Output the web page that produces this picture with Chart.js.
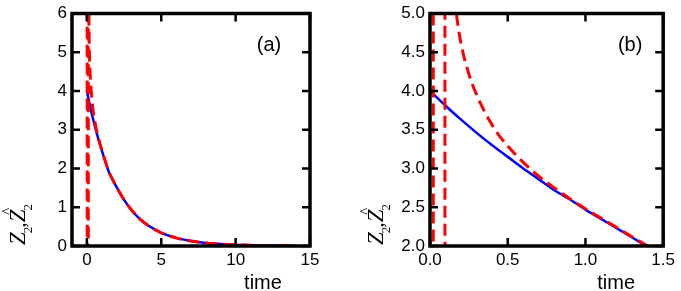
<!DOCTYPE html>
<html>
<head>
<meta charset="utf-8">
<script src="https://cdn.jsdelivr.net/npm/chart.js@4.4.1/dist/chart.umd.min.js"></script>
<style>
  html, body { margin: 0; padding: 0; background: #fff; }
  #wrap { position: relative; width: 681px; height: 291px; }
  canvas { position: absolute; top: 0; }
</style>
</head>
<body>
<div id="wrap">
  <canvas id="chartA" width="340" height="291" style="left:0px"></canvas>
  <canvas id="chartB" width="341" height="291" style="left:340px"></canvas>
</div>
<script>
// Z2 (blue, solid)
var timeZ = [0, 0.1, 0.2, 0.3, 0.4, 0.5, 0.6, 0.7, 0.8, 0.9, 1.0, 1.1, 1.2, 1.3, 1.4, 1.5,
             1.75, 2.0, 2.5, 3.0, 3.5, 4.0, 4.5, 5.0, 6.0, 7.0, 8.0, 9.0, 10.0, 11.0, 12.0, 13.0, 14.0];
var valZ  = [4.00, 3.81, 3.63, 3.46, 3.30, 3.15, 3.00, 2.86, 2.72, 2.60, 2.47, 2.35, 2.23, 2.11, 1.99, 1.89,
             1.70, 1.52, 1.19, 0.93, 0.72, 0.56, 0.44, 0.34, 0.21, 0.13, 0.08, 0.05, 0.03, 0.02, 0.01, 0.01, 0.005];

// Z2 hat (red, dashed) - blows up near t = 0
var timeZhat = [0, 0.021, 0.0212, 0.096, 0.0962, 0.11, 0.13, 0.15, 0.17, 0.2, 0.25, 0.3, 0.35, 0.4, 0.45,
                0.5, 0.55, 0.6, 0.7, 0.8, 0.9, 1.0, 1.1, 1.2, 1.3, 1.4, 1.5,
                1.75, 2.0, 2.5, 3.0, 3.5, 4.0, 4.5, 5.0, 6.0, 7.0, 8.0, 9.0, 10.0, 11.0, 12.0, 13.0, 14.0];
var valZhat  = [60, 60, -60, -60, 60, 8.5, 6.2, 5.45, 5.0, 4.61, 4.22, 3.95, 3.74, 3.56, 3.41,
                3.29, 3.18, 3.08, 2.90, 2.75, 2.61, 2.48, 2.36, 2.24, 2.12, 2.00, 1.90,
                1.70, 1.52, 1.19, 0.93, 0.72, 0.56, 0.44, 0.34, 0.21, 0.13, 0.08, 0.05, 0.03, 0.02, 0.01, 0.01, 0.005];

var ticksAx = [0, 5, 10, 15];
var ticksAy = [0, 1, 2, 3, 4, 5, 6];
var ticksBx = [0, 0.5, 1.0, 1.5];
var ticksBy = [2.0, 2.5, 3.0, 3.5, 4.0, 4.5, 5.0];

function pts(t, v) {
    return t.map(function(x, i) { return {x: x, y: v[i]}; });
}

// closed box, inward ticks on all four sides, panel tag and axis titles
var frame = {
    id: 'frame',
    afterDatasetsDraw: function(chart, args, o) {
        var ctx = chart.ctx, a = chart.chartArea;
        var sx = chart.scales.x, sy = chart.scales.y;
        ctx.save();
        ctx.strokeStyle = '#000';
        ctx.lineWidth = 2.5;
        ctx.beginPath();
        sx.ticks.forEach(function(t) {
            var px = sx.getPixelForValue(t.value);
            ctx.moveTo(px, a.bottom); ctx.lineTo(px, a.bottom - 8);
            ctx.moveTo(px, a.top); ctx.lineTo(px, a.top + 8);
        });
        sy.ticks.forEach(function(t) {
            var py = sy.getPixelForValue(t.value);
            ctx.moveTo(a.left, py); ctx.lineTo(a.left + 8, py);
            ctx.moveTo(a.right, py); ctx.lineTo(a.right - 8, py);
        });
        ctx.stroke();
        ctx.lineWidth = 3.5;
        ctx.strokeRect(a.left, a.top, a.right - a.left, a.bottom - a.top);

        ctx.fillStyle = '#000';
        ctx.textAlign = 'center';
        ctx.textBaseline = 'middle';
        ctx.font = '20px "Liberation Sans"';
        ctx.fillText(o.tag, a.right - o.tagDx, 45);

        ctx.textBaseline = 'alphabetic';
        ctx.font = '20px "Liberation Sans"';
        ctx.fillText('time', a.right - 47, 289);

        // y title: Z2, Z2-hat, rotated
        ctx.translate(a.left - 47, 245);
        ctx.rotate(-Math.PI / 2);
        ctx.textAlign = 'left';
        var x = 0;
        ctx.font = 'italic 23px "Liberation Serif"';
        ctx.fillText('Z', x, 0);
        x += ctx.measureText('Z').width;
        ctx.font = '13px "Liberation Serif"';
        ctx.fillText('2', x - 1, 7);
        x += ctx.measureText('2').width;
        ctx.font = '22px "Liberation Serif"';
        ctx.fillText(',', x - 2, 0);
        x += ctx.measureText(',').width - 2;
        ctx.font = 'italic 23px "Liberation Serif"';
        var zx = x;
        ctx.fillText('Z', x, 0);
        x += ctx.measureText('Z').width;
        ctx.font = '15px "Liberation Serif"';
        ctx.textAlign = 'center';
        ctx.fillText('^', zx + 11, -13);
        ctx.textAlign = 'left';
        ctx.font = '13px "Liberation Serif"';
        ctx.fillText('2', x - 1, 7);
        ctx.restore();
    }
};

function makeChart(id, w, box, xr, yr, xt, yt, fmt, tag, tagDx) {
    return new Chart(document.getElementById(id).getContext('2d'), {
        type: 'line',
        data: {
            datasets: [{
                data: pts(timeZhat, valZhat),
                borderColor: '#ff0000',
                borderWidth: 3,
                borderDash: [12, 6],
                pointRadius: 0,
                cubicInterpolationMode: 'monotone',
                order: 0
            }, {
                data: pts(timeZ, valZ),
                borderColor: '#0000ff',
                borderWidth: 2.5,
                pointRadius: 0,
                cubicInterpolationMode: 'monotone',
                order: 1
            }]
        },
        options: {
            responsive: false,
            animation: false,
            devicePixelRatio: 1,
            layout: { padding: { left: 0, right: w - box.right, top: box.top, bottom: 0 } },
            plugins: {
                legend: { display: false },
                tooltip: { enabled: false },
                frame: { tag: tag, tagDx: tagDx }
            },
            scales: {
                x: {
                    type: 'linear', min: xr[0], max: xr[1],
                    grid: { display: false, drawTicks: false },
                    border: { display: false },
                    afterBuildTicks: function(s) { s.ticks = xt.map(function(v) { return {value: v}; }); },
                    afterFit: function(s) { s.height = 291 - box.bottom; },
                    ticks: {
                        color: '#000', padding: 6, maxRotation: 0, autoSkip: false,
                        font: { family: 'Liberation Sans', size: 17, lineHeight: 1 },
                        callback: fmt
                    }
                },
                y: {
                    min: yr[0], max: yr[1],
                    grid: { display: false, drawTicks: false },
                    border: { display: false },
                    afterBuildTicks: function(s) { s.ticks = yt.map(function(v) { return {value: v}; }); },
                    afterFit: function(s) { s.width = box.left; },
                    ticks: {
                        color: '#000', padding: 5, autoSkip: false,
                        font: { family: 'Liberation Sans', size: 17, lineHeight: 1 },
                        callback: fmt
                    }
                }
            }
        },
        plugins: [frame]
    });
}

window.onload = function() {
    makeChart('chartA', 340, {left: 72, right: 310, top: 9, bottom: 246},
        [-1, 15], [0, 6], ticksAx, ticksAy,
        function(v) { return String(v); }, '(a)', 41);
    makeChart('chartB', 341, {left: 90, right: 325, top: 9, bottom: 246},
        [0, 1.5], [2, 5], ticksBx, ticksBy,
        function(v) { return v.toFixed(1); }, '(b)', 33);
};
</script>
</body>
</html>
